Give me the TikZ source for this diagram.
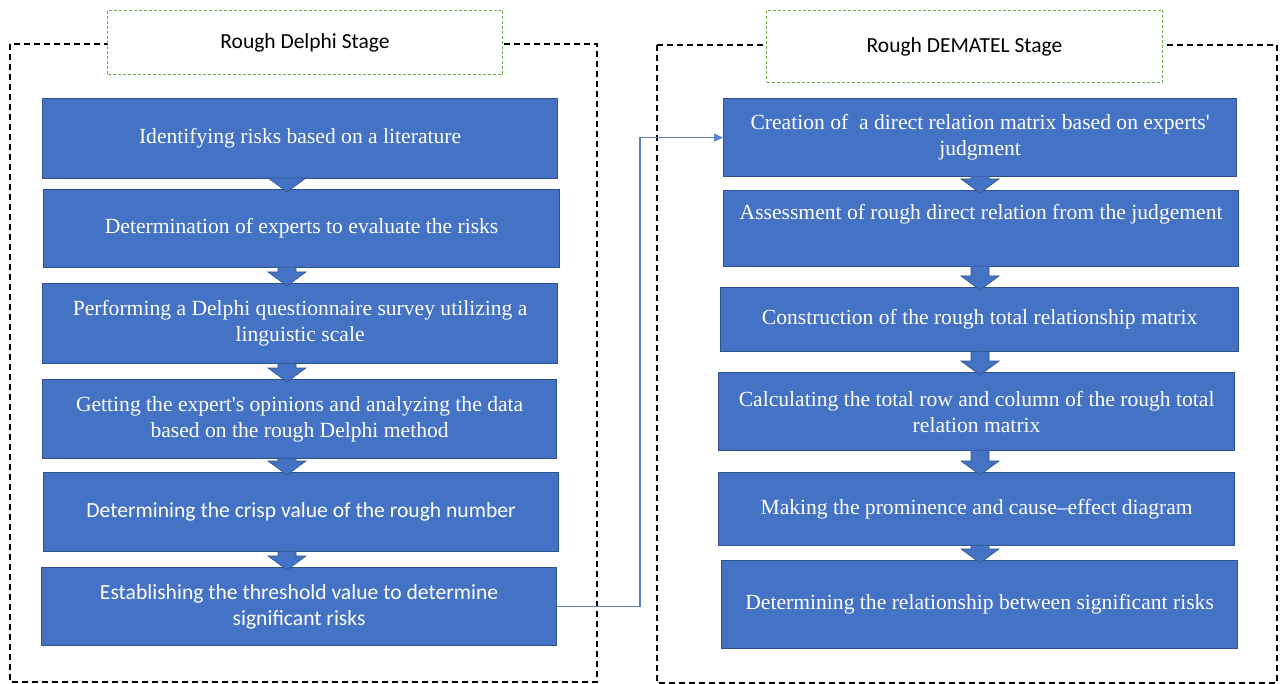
\documentclass[tikz,border=0pt]{standalone}
\usepackage{fontspec}
\setmainfont{Liberation Serif}
\newfontfamily\calibri{Carlito}
\usetikzlibrary{calc,arrows.meta}
\definecolor{boxblue}{HTML}{4472C4}
\definecolor{boxedge}{HTML}{2F528F}
\definecolor{hdrgreen}{HTML}{70AD47}
\definecolor{connblue}{HTML}{5B83CC}
\newcommand{\blockarrow}[3]{%
  \path let \p1=(#1.south), \p2=(#2.north) in
    [barrow] (#3-9,\y1+1pt) -- (#3+9,\y1+1pt) -- (#3+9,\y2+11pt) -- (#3+19,\y2+11pt)
    -- (#3,\y2-3pt) -- (#3-19,\y2+11pt) -- (#3-9,\y2+11pt) -- cycle;}
\begin{document}
\begin{tikzpicture}[x=1pt,y=-1pt,
  stepbox/.style={draw=boxedge, line width=1.2pt, fill=boxblue, text=white, align=center,
    anchor=north west, inner sep=2pt, font=\fontsize{21.6}{26}\selectfont},
  sansbox/.style={stepbox, font=\calibri\fontsize{21.6}{26}\selectfont},
  hdrbox/.style={draw=hdrgreen, dash pattern=on 3pt off 2pt, line width=1pt, fill=white,
    anchor=north west, font=\calibri\fontsize{21.5}{24}\selectfont},
  stagebox/.style={draw=black, dash pattern=on 6pt off 4pt, line width=1.1pt},
  barrow/.style={fill=boxblue, draw=boxedge, line width=0.6pt},
  conn/.style={draw=connblue, line width=1.1pt, -{Triangle[length=9pt,width=8pt]}}]
\useasboundingbox (0,0) rectangle (1284,684);
% stage frames
\draw[stagebox] (10,44) rectangle (597,682);
\draw[stagebox] (657,45) rectangle (1277,683);
\node[hdrbox, minimum width=395pt, minimum height=64pt] (h1) at (107,10) {Rough Delphi Stage};
\node[hdrbox, minimum width=396pt, minimum height=72pt] (h2) at (766,10) {Rough DEMATEL Stage};
% left column
\node[stepbox, minimum width=515pt, minimum height=80pt] (l1) at (42,98) {Identifying risks based on a literature};
\node[stepbox, minimum width=516pt, minimum height=78pt] (l2) at (43,189) {Determination of experts to evaluate the risks};
\node[stepbox, minimum width=515pt, minimum height=80pt] (l3) at (42,283) {Performing a Delphi questionnaire survey utilizing a\\linguistic scale};
\node[stepbox, minimum width=514pt, minimum height=79pt] (l4) at (42,379) {Getting the expert\textquotesingle s opinions and analyzing the data\\based on the rough Delphi method};
\node[sansbox, minimum width=515pt, minimum height=79pt] (l5) at (43,472) {Determining the crisp value of the rough number};
\node[sansbox, minimum width=515pt, minimum height=78pt] (l6) at (41,567) {Establishing the threshold value to determine\\significant risks};
% right column
\node[stepbox, minimum width=513pt, minimum height=78pt] (r1) at (723,98) {Creation of\ \ a direct relation matrix based on experts\textquotesingle\\judgment};
\node[stepbox, minimum width=515pt, minimum height=76pt] (r2) at (723,190) {Assessment of rough direct relation from the judgement\\\strut};
\node[stepbox, minimum width=518pt, minimum height=64pt] (r3) at (720,287) {Construction of the rough total relationship matrix};
\node[stepbox, minimum width=516pt, minimum height=78pt] (r4) at (718,372) {Calculating the total row and column of the rough total\\relation matrix};
\node[stepbox, minimum width=516pt, minimum height=73pt] (r5) at (718,472) {Making the prominence and cause--effect diagram};
\node[stepbox, minimum width=516pt, minimum height=88pt] (r6) at (721,560) {Determining the relationship between significant risks};
% block arrows
\blockarrow{l1}{l2}{287}
\blockarrow{l2}{l3}{287}
\blockarrow{l3}{l4}{287}
\blockarrow{l4}{l5}{287}
\blockarrow{l5}{l6}{287}
\blockarrow{r1}{r2}{980}
\blockarrow{r2}{r3}{980}
\blockarrow{r3}{r4}{980}
\blockarrow{r4}{r5}{980}
\blockarrow{r5}{r6}{980}
% connector
\coordinate (jog) at (640,0);
\draw[conn] (l6.east) -- (l6.east -| jog) |- (r1.west);
\end{tikzpicture}
\end{document}
